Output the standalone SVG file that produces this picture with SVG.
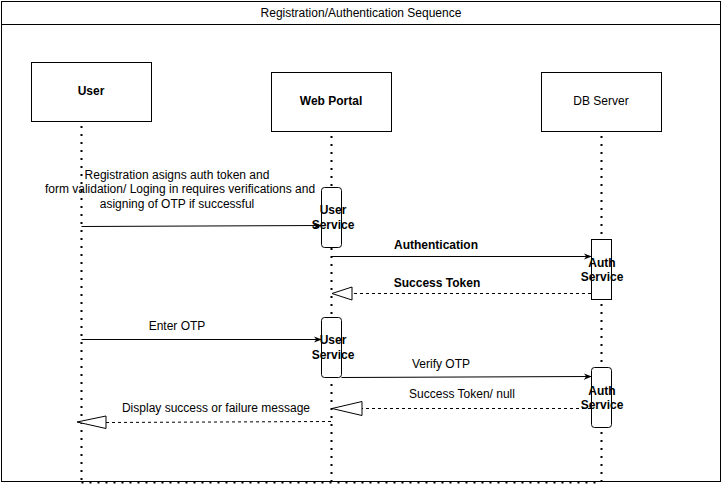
<svg xmlns="http://www.w3.org/2000/svg" width="723" height="486" viewBox="0 0 723 486">
<defs>
<style>
text{font-family:"Liberation Sans",Arial,sans-serif;font-size:12px;fill:#000;text-anchor:middle;dominant-baseline:central}
.b{font-weight:bold}
.box{fill:#fff;stroke:#000;stroke-width:1}
.life{stroke:#000;stroke-width:2;stroke-dasharray:2 6;fill:none}
.msg{stroke:#000;stroke-width:1;fill:none}
.ret{stroke:#000;stroke-width:1;stroke-dasharray:3 3;fill:none}
.tri{fill:#fff;stroke:#000;stroke-width:1}
</style>
<marker id="ah" viewBox="0 0 10 10" refX="9" refY="5" markerWidth="8" markerHeight="8" markerUnits="userSpaceOnUse" orient="auto">
<path d="M0,1 L10,5 L0,9 L3,5 Z" fill="#000"/>
</marker>
</defs>
<g id="frame">
<rect x="1.5" y="1.5" width="719" height="480" fill="#fff" stroke="#000"/>
<line x1="1.5" y1="24.5" x2="720.5" y2="24.5" stroke="#000"/>
<text x="361" y="13">Registration/Authentication Sequence</text>
</g>
<g id="lifelines">
<line class="life" x1="81.5" y1="126" x2="81.5" y2="482"/>
<line class="life" x1="331.5" y1="136" x2="331.5" y2="482"/>
<line class="life" x1="601.5" y1="136" x2="601.5" y2="482"/>
<line class="life" x1="81.5" y1="482.5" x2="601.5" y2="482.5"/>
</g>
<g id="user"><rect class="box" x="31.5" y="62.5" width="120" height="59"/><text class="b" x="91" y="91">User</text></g>
<g id="webportal"><rect class="box" x="271.5" y="72.5" width="120" height="59"/><text class="b" x="331" y="101">Web Portal</text></g>
<g id="dbserver"><rect class="box" x="541.5" y="72.5" width="120" height="59"/><text x="601" y="101">DB Server</text></g>
<g id="userservice1"><rect class="box" x="321.5" y="187.5" width="20" height="60" rx="3"/><text class="b" x="333" y="210">User</text><text class="b" x="333" y="225">Service</text></g>
<g id="authservice1"><rect class="box" x="591.5" y="239.5" width="20" height="60"/><text class="b" x="602" y="263">Auth</text><text class="b" x="602" y="277">Service</text></g>
<g id="userservice2"><rect class="box" x="321.5" y="317.5" width="20" height="60" rx="3"/><text class="b" x="333" y="340">User</text><text class="b" x="333" y="355">Service</text></g>
<g id="authservice2"><rect class="box" x="591.5" y="367.5" width="20" height="60" rx="3"/><text class="b" x="602" y="391">Auth</text><text class="b" x="602" y="405">Service</text></g>
<g id="connectors">
<line class="msg" x1="81.5" y1="226.5" x2="321" y2="225.5" marker-end="url(#ah)"/>
<text x="177" y="175">Registration asigns auth token and</text>
<text x="180" y="189">form validation/ Loging in requires verifications and</text>
<text x="177" y="204">asigning of OTP if successful</text>
<line class="msg" x1="331.5" y1="256.5" x2="591" y2="256.5" marker-end="url(#ah)"/>
<text class="b" x="436" y="245">Authentication</text>
<line class="ret" x1="591" y1="293.5" x2="352" y2="293.5"/>
<path class="tri" d="M332,293.5 L352,287 L352,300 Z"/>
<text class="b" x="437" y="283">Success Token</text>
<line class="msg" x1="81.5" y1="339.5" x2="321" y2="339.5" marker-end="url(#ah)"/>
<text x="177" y="326">Enter OTP</text>
<line class="msg" x1="341.5" y1="377.5" x2="591" y2="376.5" marker-end="url(#ah)"/>
<text x="441" y="364">Verify OTP</text>
<line class="ret" x1="591" y1="408.5" x2="362" y2="408.5"/>
<path class="tri" d="M332,408.5 L362,401.5 L362,415.5 Z"/>
<text x="462" y="394">Success Token/ null</text>
<line class="ret" x1="331" y1="421.5" x2="106" y2="422.5"/>
<path class="tri" d="M77,422 L106,416 L106,428.5 Z"/>
<text x="216" y="408">Display success or failure message</text>
</g>
</svg>
